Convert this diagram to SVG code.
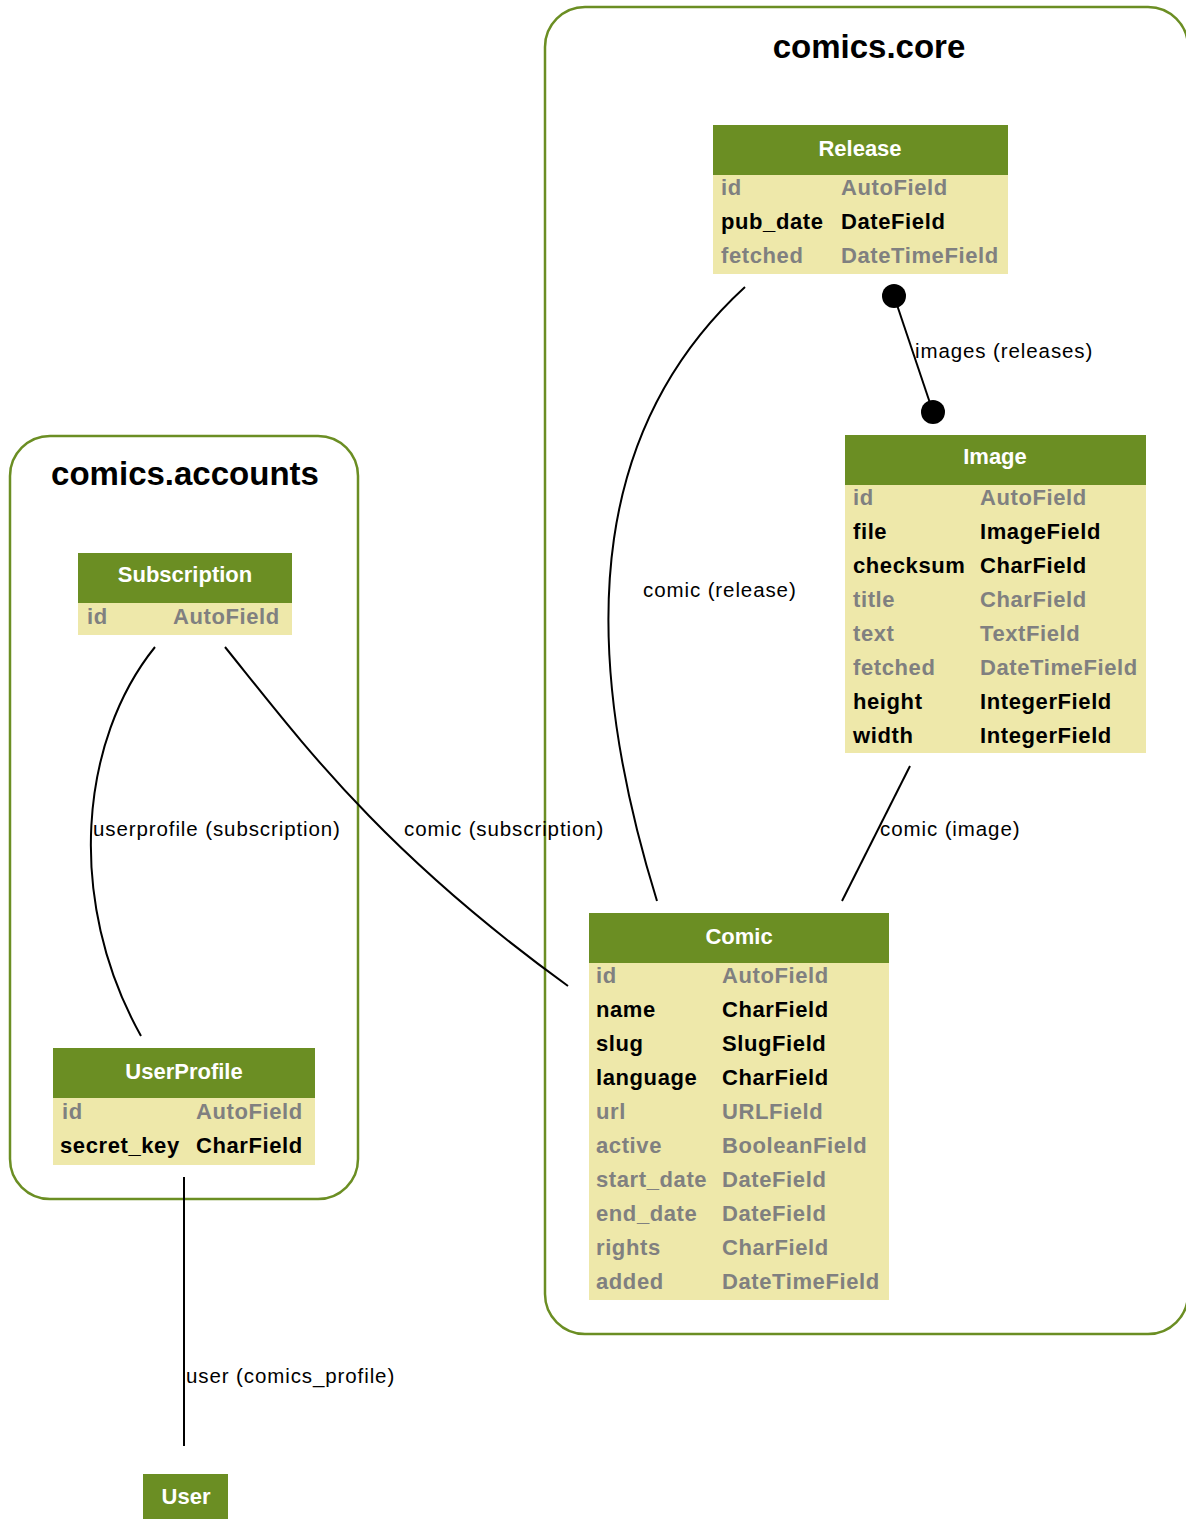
<svg xmlns="http://www.w3.org/2000/svg" width="1186" height="1519" viewBox="0 0 1186 1519">
<style>
.cluster{fill:none;stroke:#6b8e23;stroke-width:2.5}
.ctitle{font-family:"Liberation Sans",Arial,sans-serif;font-weight:bold;font-size:33px;fill:#000;text-anchor:middle}
.hd{fill:#6b8e23}
.bd{fill:#eee8aa}
.ht{font-family:"Liberation Sans",Arial,sans-serif;font-weight:bold;font-size:22px;fill:#fff;text-anchor:middle}
.f{font-family:"Liberation Sans",Arial,sans-serif;font-weight:bold;font-size:22px;fill:#808080;letter-spacing:0.6px}
.k{fill:#000}
.edge{fill:none;stroke:#000;stroke-width:2}
.lbl{font-family:"Liberation Sans",Arial,sans-serif;font-size:20.5px;fill:#000;letter-spacing:0.9px}
</style>
<rect width="1186" height="1519" fill="#fff"/>
<g id="cluster-core">
<rect class="cluster" x="545" y="7" width="643" height="1327" rx="40"/>
<text class="ctitle" x="869" y="58">comics.core</text>
</g>
<g id="cluster-accounts">
<rect class="cluster" x="10" y="436" width="348" height="763" rx="40"/>
<text class="ctitle" x="185" y="485">comics.accounts</text>
</g>
<g id="connectors">
<path class="edge" d="M745,287 C600,420 570,620 657,901"/>
<line class="edge" x1="894" y1="296" x2="933" y2="412"/>
<circle cx="894" cy="296" r="12" fill="#000"/>
<circle cx="933" cy="412" r="12" fill="#000"/>
<line class="edge" x1="910" y1="766" x2="842" y2="901"/>
<path class="edge" d="M155,647 C80,740 65,900 141,1036"/>
<path class="edge" d="M225,647 C300,740 380,850 568,986"/>
<line class="edge" x1="184" y1="1177" x2="184" y2="1446"/>
<text class="lbl" x="643" y="597">comic (release)</text>
<text class="lbl" x="915" y="358">images (releases)</text>
<text class="lbl" x="93" y="836">userprofile (subscription)</text>
<text class="lbl" x="404" y="836">comic (subscription)</text>
<text class="lbl" x="880" y="836">comic (image)</text>
<text class="lbl" x="186" y="1383">user (comics_profile)</text>
</g>
<g id="Release">
<rect class="hd" x="713" y="125" width="295" height="50"/>
<rect class="bd" x="713" y="175" width="295" height="99"/>
<text class="ht" x="860" y="156">Release</text>
<text class="f" x="721" y="195">id</text><text class="f" x="841" y="195">AutoField</text>
<text class="f k" x="721" y="229">pub_date</text><text class="f k" x="841" y="229">DateField</text>
<text class="f" x="721" y="263">fetched</text><text class="f" x="841" y="263">DateTimeField</text>
</g>
<g id="Image">
<rect class="hd" x="845" y="435" width="301" height="50"/>
<rect class="bd" x="845" y="485" width="301" height="268"/>
<text class="ht" x="995" y="464">Image</text>
<text class="f" x="853" y="505">id</text><text class="f" x="980" y="505">AutoField</text>
<text class="f k" x="853" y="539">file</text><text class="f k" x="980" y="539">ImageField</text>
<text class="f k" x="853" y="573">checksum</text><text class="f k" x="980" y="573">CharField</text>
<text class="f" x="853" y="607">title</text><text class="f" x="980" y="607">CharField</text>
<text class="f" x="853" y="641">text</text><text class="f" x="980" y="641">TextField</text>
<text class="f" x="853" y="675">fetched</text><text class="f" x="980" y="675">DateTimeField</text>
<text class="f k" x="853" y="709">height</text><text class="f k" x="980" y="709">IntegerField</text>
<text class="f k" x="853" y="743">width</text><text class="f k" x="980" y="743">IntegerField</text>
</g>
<g id="Comic">
<rect class="hd" x="589" y="913" width="300" height="50"/>
<rect class="bd" x="589" y="963" width="300" height="337"/>
<text class="ht" x="739" y="944">Comic</text>
<text class="f" x="596" y="983">id</text><text class="f" x="722" y="983">AutoField</text>
<text class="f k" x="596" y="1017">name</text><text class="f k" x="722" y="1017">CharField</text>
<text class="f k" x="596" y="1051">slug</text><text class="f k" x="722" y="1051">SlugField</text>
<text class="f k" x="596" y="1085">language</text><text class="f k" x="722" y="1085">CharField</text>
<text class="f" x="596" y="1119">url</text><text class="f" x="722" y="1119">URLField</text>
<text class="f" x="596" y="1153">active</text><text class="f" x="722" y="1153">BooleanField</text>
<text class="f" x="596" y="1187">start_date</text><text class="f" x="722" y="1187">DateField</text>
<text class="f" x="596" y="1221">end_date</text><text class="f" x="722" y="1221">DateField</text>
<text class="f" x="596" y="1255">rights</text><text class="f" x="722" y="1255">CharField</text>
<text class="f" x="596" y="1289">added</text><text class="f" x="722" y="1289">DateTimeField</text>
</g>
<g id="Subscription">
<rect class="hd" x="78" y="553" width="214" height="50"/>
<rect class="bd" x="78" y="603" width="214" height="32"/>
<text class="ht" x="185" y="582">Subscription</text>
<text class="f" x="87" y="624">id</text><text class="f" x="173" y="624">AutoField</text>
</g>
<g id="UserProfile">
<rect class="hd" x="53" y="1048" width="262" height="50"/>
<rect class="bd" x="53" y="1098" width="262" height="67"/>
<text class="ht" x="184" y="1079">UserProfile</text>
<text class="f" x="62" y="1119">id</text><text class="f" x="196" y="1119">AutoField</text>
<text class="f k" x="60" y="1153">secret_key</text><text class="f k" x="196" y="1153">CharField</text>
</g>
<g id="User">
<rect class="hd" x="143" y="1474" width="85" height="50"/>
<text class="ht" x="186" y="1504">User</text>
</g>
</svg>
